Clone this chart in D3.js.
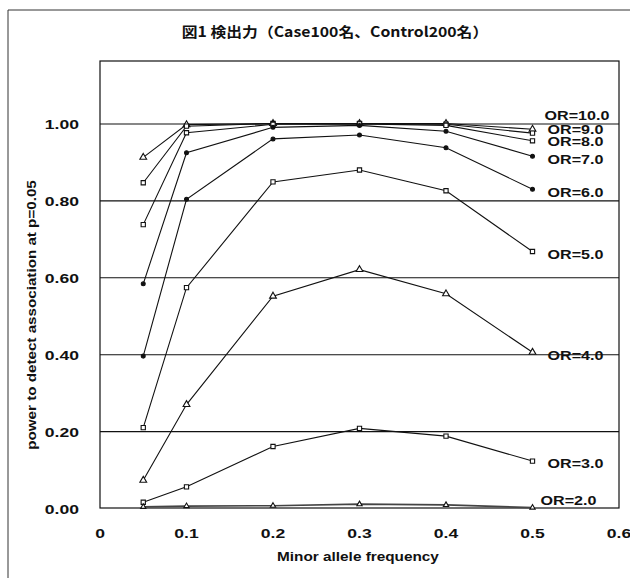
<!DOCTYPE html>
<html>
<head>
<meta charset="utf-8">
<script src="https://cdn.jsdelivr.net/npm/d3@7"></script>
<style>
  html, body { margin: 0; padding: 0; background: #fff; }
  svg { display: block; }
</style>
</head>
<body>
<svg id="chart" width="630" height="578"></svg>
<script>
// ---------------- data ----------------
const chartTitle = "図1 検出力（Case100名、Control200名）";
const xTitle = "Minor allele frequency";
const yTitle = "power to detect association at p=0.05";
const mafValues = [0.05, 0.1, 0.2, 0.3, 0.4, 0.5];
const xTickValues = [0, 0.1, 0.2, 0.3, 0.4, 0.5, 0.6];
const xTickLabels = ["0", "0.1", "0.2", "0.3", "0.4", "0.5", "0.6"];
const yTickValues = [0, 0.2, 0.4, 0.6, 0.8, 1.0];
const yTickLabels = ["0.00", "0.20", "0.40", "0.60", "0.80", "1.00"];
const seriesNames = ["OR=10.0", "OR=9.0", "OR=8.0", "OR=7.0", "OR=6.0", "OR=5.0", "OR=4.0", "OR=3.0", "OR=2.0"];
const or10 = [0.912, 0.997, 1.000, 1.000, 1.000, 0.985];
const or9  = [0.846, 0.993, 1.000, 1.000, 0.998, 0.975];
const or8  = [0.737, 0.976, 0.998, 0.999, 0.995, 0.955];
const or7  = [0.583, 0.924, 0.990, 0.995, 0.980, 0.915];
const or6  = [0.395, 0.803, 0.960, 0.970, 0.937, 0.829];
const or5  = [0.209, 0.573, 0.848, 0.879, 0.825, 0.667];
const or4  = [0.072, 0.269, 0.551, 0.620, 0.557, 0.405];
const or3  = [0.015, 0.055, 0.160, 0.207, 0.187, 0.122];
const or2  = [0.003, 0.005, 0.006, 0.010, 0.008, 0.001];
const seriesValues = [or10, or9, or8, or7, or6, or5, or4, or3, or2];

// ---------------- layout / style ----------------
const svg = d3.select("#chart");
const plot = { left: 100, right: 619, top: 61, bottom: 508 };
const x = d3.scaleLinear().domain([0, 0.6]).range([plot.left, plot.right]);
const y = d3.scaleLinear().domain([0, 1]).range([plot.bottom, 123.5]);
const latin = "'Liberation Sans', Arial, Helvetica, sans-serif";
const cjk = "'Noto Sans CJK JP', 'Noto Sans CJK SC', sans-serif";
const markerTypes = ["triangle", "square", "square", "dot", "dot", "square", "triangle", "square", "tri-small"];
const labelNudge = [-14, -4, 1, 3, 3, 3, 3, 2, -7];
const labelShift = [12, 15, 15, 15, 15, 15, 15, 15, 8];

function stext(parent, px, py, str, opt) {
  const o = Object.assign({ size: 13, anchor: "start", sx: 1.25, rotate: 0, family: latin, weight: "bold" }, opt);
  const g = parent.append("g")
    .attr("transform", `translate(${px},${py})` + (o.rotate ? ` rotate(${o.rotate})` : "") + ` scale(${o.sx},1)`);
  g.append("text")
    .attr("text-anchor", o.anchor)
    .attr("dominant-baseline", "central")
    .attr("font-family", o.family)
    .attr("font-weight", o.weight)
    .attr("font-size", o.size)
    .attr("fill", "#111")
    .text(str);
  return g;
}

// outer frame (extends beyond the visible window)
svg.append("line").attr("x1", 8).attr("y1", 10).attr("x2", 8).attr("y2", 578).attr("stroke", "#333").attr("stroke-width", 1);
svg.append("line").attr("x1", 8).attr("y1", 10).attr("x2", 630).attr("y2", 10).attr("stroke", "#333").attr("stroke-width", 1);

// title
stext(svg, 335, 31, chartTitle, { size: 14, anchor: "middle", sx: 1.13, family: cjk });

// gridlines via axis
svg.append("g")
  .attr("transform", `translate(${plot.left},0)`)
  .call(d3.axisLeft(y).tickValues(yTickValues.filter(v => v > 0)).tickSize(-(plot.right - plot.left)).tickFormat(""))
  .call(g => g.select(".domain").remove())
  .call(g => g.selectAll(".tick line").attr("stroke", "#111").attr("stroke-width", 1.1));

// x axis (ticks only)
svg.append("g")
  .attr("transform", `translate(0,${plot.bottom})`)
  .call(d3.axisBottom(x).tickValues(xTickValues).tickSize(0).tickFormat(""))
  .call(g => g.select(".domain").remove());

// plot border
svg.append("rect")
  .attr("x", plot.left).attr("y", plot.top)
  .attr("width", plot.right - plot.left).attr("height", plot.bottom - plot.top)
  .attr("fill", "none").attr("stroke", "#111").attr("stroke-width", 1.2);

// tick labels
yTickValues.forEach((v, i) => stext(svg, 79, y(v) + 1, yTickLabels[i], { size: 13.5, anchor: "end", sx: 1.3 }));
xTickValues.forEach((v, i) => stext(svg, x(v), 533, xTickLabels[i], { size: 13.5, anchor: "middle", sx: 1.3 }));

// axis titles
stext(svg, 358, 556, xTitle, { size: 13, anchor: "middle", sx: 1.18 });
stext(svg, 31, 315, yTitle, { size: 13, anchor: "middle", sx: 1.17, rotate: -90 });

// series
const line = d3.line().x((d, i) => x(mafValues[i])).y(d => y(d));
const plotG = svg.append("g");
seriesValues.forEach((vals, s) => {
  plotG.append("path")
    .attr("d", line(vals))
    .attr("fill", "none")
    .attr("stroke", s === 8 ? "#444" : "#111")
    .attr("stroke-width", s === 8 ? 1.6 : 1.1);
});
seriesValues.forEach((vals, s) => {
  const t = markerTypes[s];
  vals.forEach((v, i) => {
    const cx = x(mafValues[i]), cy = y(v);
    let sym;
    if (t === "triangle") sym = d3.symbol(d3.symbolTriangle, 20);
    else if (t === "tri-small") sym = d3.symbol(d3.symbolTriangle, 12);
    else if (t === "square") sym = d3.symbol(d3.symbolSquare, 18);
    else sym = d3.symbol(d3.symbolCircle, 12);
    plotG.append("path")
      .attr("d", sym())
      .attr("transform", `translate(${cx},${cy})`)
      .attr("fill", t === "dot" ? "#111" : "#fff")
      .attr("stroke", "#111")
      .attr("stroke-width", 1.1);
  });
});

// series labels
seriesValues.forEach((vals, s) => {
  const last = vals[vals.length - 1];
  stext(svg, x(mafValues[mafValues.length - 1]) + labelShift[s], y(last) + labelNudge[s], seriesNames[s],
        { size: 13, anchor: "start", sx: 1.24 });
});
</script>
</body>
</html>
